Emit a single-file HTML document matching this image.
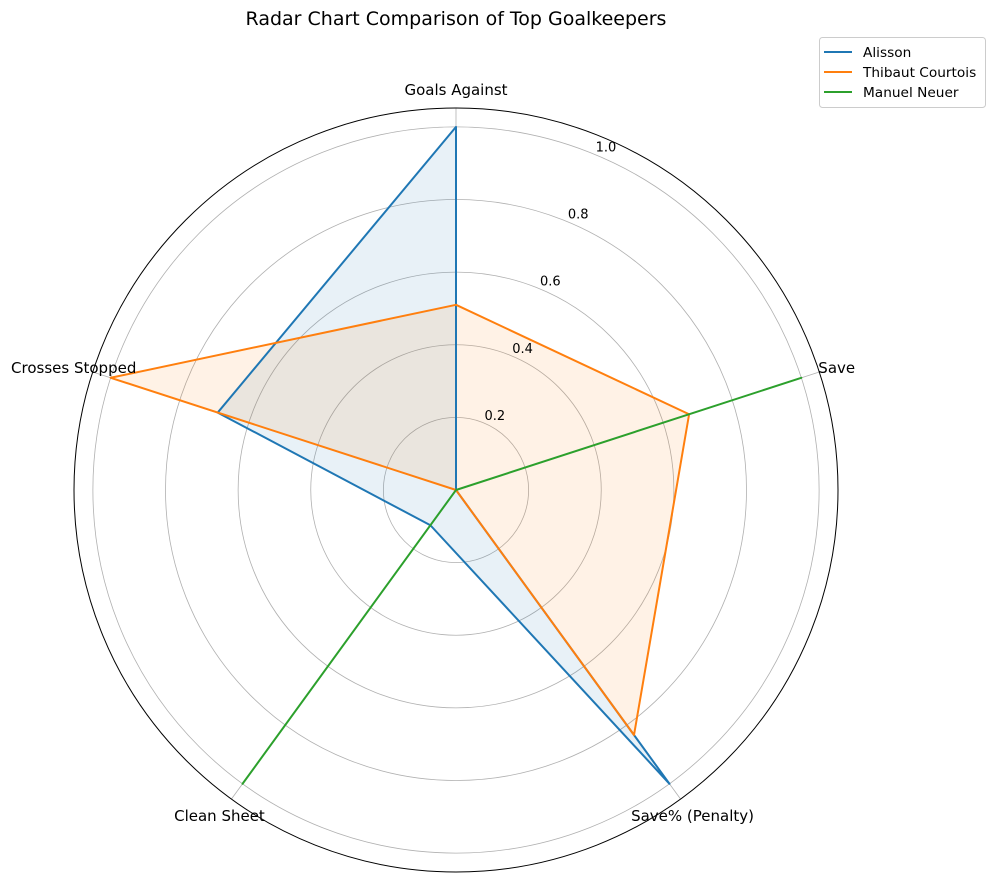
<!DOCTYPE html>
<html><head><meta charset="utf-8"><style>
body{margin:0;background:#fff;font-family:"DejaVu Sans","Liberation Sans",sans-serif;}
svg text{font-family:"DejaVu Sans","Liberation Sans",sans-serif;}
</style></head><body>
<svg id="chart" width="993" height="883" viewBox="0 0 993 883">
<rect width="993" height="883" fill="#fff"/>
<text x="456" y="25" text-anchor="middle" font-size="19" fill="#000">Radar Chart Comparison of Top Goalkeepers</text>
<g id="grid"></g>
<g id="series"></g>
<g id="labels"></g>
<g>
<rect x="819.5" y="37.5" width="166" height="70" rx="3" fill="#fff" stroke="#ccc"/>
<line x1="824" y1="52" x2="852" y2="52" stroke="#1f77b4" stroke-width="2"/>
<text x="863" y="57" font-size="13.7">Alisson</text>
<line x1="824" y1="72" x2="852" y2="72" stroke="#ff7f0e" stroke-width="2"/>
<text x="863" y="77" font-size="13.7">Thibaut Courtois</text>
<line x1="824" y1="92" x2="852" y2="92" stroke="#2ca02c" stroke-width="2"/>
<text x="863" y="97" font-size="13.7">Manuel Neuer</text>
</g>
</svg>
<script>
const categories = ["Goals Against","Save","Save% (Penalty)","Clean Sheet","Crosses Stopped"];
const alissonValues = [1.0, 0.0, 1.0, 0.12, 0.69];
const courtoisValues = [0.51, 0.675, 0.834, 0.0, 1.0];
const neuerValues = [0.0, 1.0, 0.0, 1.0, 0.0];
const radialTicks = [0.2, 0.4, 0.6, 0.8, 1.0];
const radialTickLabels = ["0.2","0.4","0.6","0.8","1.0"];
const seriesNames = ["alisson","courtois","neuer"];
const seriesColors = ["#1f77b4","#ff7f0e","#2ca02c"];

const NS = "http://www.w3.org/2000/svg";
const cx = 456, cy = 490, rMax = 1.052, R = 382;
function rScale(v){ return v / rMax * R; }
function ang(i){ return Math.PI/2 - i * 2*Math.PI/categories.length; }
function pt(i, v){ const a = ang(i), r = rScale(v); return [cx + r*Math.cos(a), cy - r*Math.sin(a)]; }
function mk(tag, attrs, parent){ const e = document.createElementNS(NS, tag); for (const k in attrs) e.setAttribute(k, attrs[k]); parent.appendChild(e); return e; }

const grid = document.getElementById('grid');
radialTicks.forEach((t, k) => {
  const c = mk('circle', {cx, cy, r: rScale(t), fill:'none', stroke:'#b0b0b0', 'stroke-width':0.8}, grid);
  
  
});
categories.forEach((c, i) => {
  const [x, y] = pt(i, rMax);
  const l = mk('line', {x1:cx, y1:cy, x2:x, y2:y, stroke:'#b0b0b0', 'stroke-width':0.8}, grid);
  
  
});
const outer = mk('circle', {cx, cy, r: R, fill:'none', stroke:'#000', 'stroke-width':1}, grid);



const labels = document.getElementById('labels');
radialTicks.forEach((t, k) => {
  const r = rScale(t), a = 67.5 * Math.PI/180;
  const x = cx + r*Math.cos(a) + 11, y = cy - r*Math.sin(a) - 3;
  const tx = mk('text', {x, y, 'text-anchor':'middle', 'font-size':13}, labels);
  tx.textContent = radialTickLabels[k];
  
  
});
categories.forEach((c, i) => {
  const [px, py] = pt(i, rMax);
  const a = ang(i), cs = Math.cos(a), sn = Math.sin(a);
  let x = px, y = py, anchor = 'middle';
  if (sn > 0.9) { y = py - 13; }
  else if (sn > 0 && cs > 0) { anchor = 'start'; x = px - 1; y = py + 1; }
  else if (sn > 0 && cs < 0) { x = px - 19; y = py + 1; }
  else { x = px + (cs > 0 ? 12 : -12); y = py + 22; }
  const tx = mk('text', {x, y, 'text-anchor':anchor, 'font-size':15}, labels);
  tx.textContent = c;
  
  
});

const sg = document.getElementById('series');
[alissonValues, courtoisValues, neuerValues].forEach((vals, s) => {
  const pts = vals.map((v, i) => pt(i, v).join(',')).join(' ');
  const f = mk('polygon', {points: pts, fill: seriesColors[s], 'fill-opacity':0.1, stroke:'none'}, sg);
  
  
});
[alissonValues, courtoisValues, neuerValues].forEach((vals, s) => {
  const pts = vals.map((v, i) => pt(i, v).join(',')).join(' ');
  const p = mk('polygon', {points: pts, fill:'none', stroke: seriesColors[s], 'stroke-width':2, 'stroke-linejoin':'round'}, sg);
  
  
});
</script>
</body></html>
